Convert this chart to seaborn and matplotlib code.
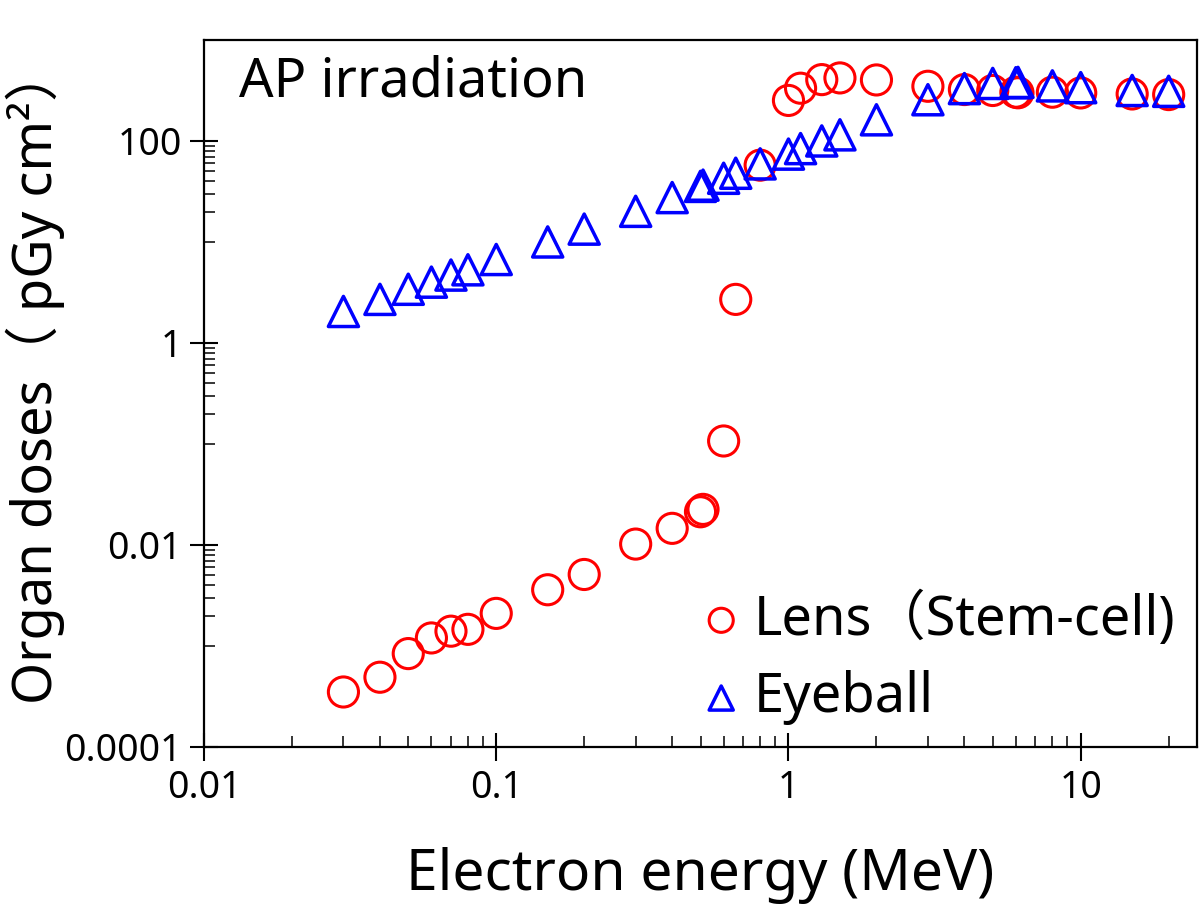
import numpy as np
import pandas as pd
import matplotlib
matplotlib.use("Agg")
import matplotlib.pyplot as plt
import matplotlib.ticker as mticker
import seaborn as sns

# electron energies (MeV) and organ doses (pGy cm2)
energy = [0.03, 0.04, 0.05, 0.06, 0.07, 0.08, 0.1, 0.15, 0.2, 0.3, 0.4, 0.5, 0.51,
          0.6, 0.66, 0.8, 1.0, 1.1, 1.3, 1.5, 2, 3, 4, 5, 6, 6.1, 8, 10, 15, 20]
lens_dose = [0.00035, 0.00049, 0.00084, 0.0012, 0.0014, 0.00146, 0.0021, 0.0036,
             0.0051, 0.0102, 0.0146, 0.0213, 0.0225, 0.107, 2.7, 57.6, 252, 333,
             405, 421, 402, 348, 323, 316, 304, 300, 304, 299, 292, 288]
eye_dose = [2.05, 2.7, 3.4, 4.0, 4.7, 5.3, 6.7, 10.0, 13.4, 20.1, 27.5, 35.5, 36.5,
            42.7, 47.9, 59.3, 74.1, 84, 100, 115, 162, 256, 330, 371, 377, 380,
            351, 337, 316, 310]

lens = pd.DataFrame({"E": energy, "D": lens_dose})
eye = pd.DataFrame({"E": energy, "D": eye_dose})

sns.set_style("ticks")
plt.rcParams['font.family'] = ['Noto Sans', 'Noto Sans CJK JP', 'DejaVu Sans']
plt.rcParams['text.color'] = 'black'
plt.rcParams['axes.labelcolor'] = 'black'

fig = plt.figure(figsize=(12, 9.21), dpi=100)
ax = fig.add_axes([0.170, 0.189, 0.8275, 0.7676])

sns.scatterplot(data=lens, x="E", y="D", marker="o", s=470, facecolor="none",
                edgecolor="#ff0000", linewidth=2.2, label="Lens（Stem-cell)", ax=ax)
sns.scatterplot(data=eye, x="E", y="D", marker="^", s=470, facecolor="none",
                edgecolor="#0000ff", linewidth=2.5, label="Eyeball", ax=ax)

ax.set_xscale("log")
ax.set_yscale("log")
ax.set_xlim(0.01, 25)
ax.set_ylim(1e-4, 1e3)

ax.xaxis.set_major_locator(mticker.LogLocator(base=10))
ax.xaxis.set_minor_locator(mticker.LogLocator(base=10, subs=np.arange(2, 10)))
ax.xaxis.set_minor_formatter(mticker.NullFormatter())
ax.xaxis.set_major_formatter(mticker.FuncFormatter(lambda v, p: "%g" % v))
ax.yaxis.set_major_locator(mticker.FixedLocator([1e-4, 1e-2, 1, 100]))
ax.yaxis.set_minor_locator(mticker.LogLocator(base=100, subs=np.arange(10, 100, 10)))
ax.yaxis.set_minor_formatter(mticker.NullFormatter())
ax.yaxis.set_major_formatter(mticker.FuncFormatter(lambda v, p: "%g" % v))

ax.tick_params(which="major", direction="inout", length=20, width=1.5,
               labelsize=27, colors="black", pad=6)
ax.tick_params(which="minor", direction="in", length=8, width=1.3)
for sp in ax.spines.values():
    sp.set_linewidth(1.6)
    sp.set_color("black")

ax.set_xlabel("Electron energy (MeV)", fontsize=41, labelpad=29)
ax.set_ylabel("Organ doses（ pGy cm²）", fontsize=39)
ax.yaxis.set_label_coords(-0.14, 0.525)

ax.text(0.035, 0.98, "AP irradiation", transform=ax.transAxes,
        fontsize=39, va="top", ha="left")

ax.legend(loc="lower right", bbox_to_anchor=(1.0, 0.0), frameon=False,
          fontsize=39, markerscale=0.8, handletextpad=0.1, labelspacing=0.42,
          borderaxespad=0.0, borderpad=0.4, handlelength=1.0)

fig.savefig("out.png", dpi=100)
